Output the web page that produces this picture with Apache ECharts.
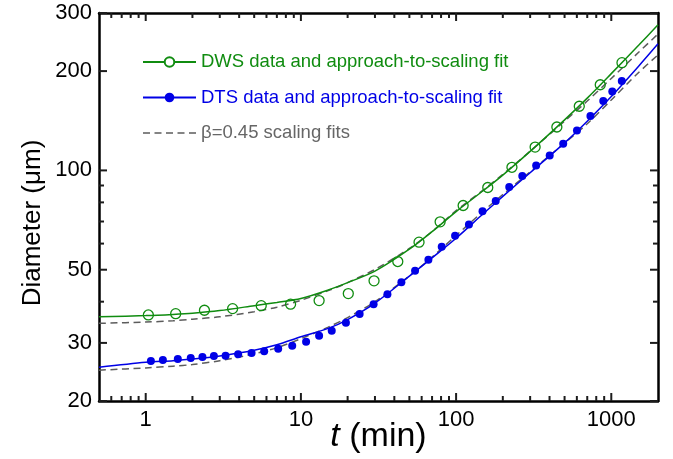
<!DOCTYPE html>
<html><head><meta charset="utf-8">
<script src="https://cdn.jsdelivr.net/npm/echarts@6/dist/echarts.min.js"></script>
<style>html,body{margin:0;padding:0;background:#fff}#c{width:673px;height:459px}</style>
</head><body><div id="c"></div>
<script>
// ---- data ----
const dwsT = [1.04,1.56,2.39,3.63,5.55,8.58,13.1,20.2,29.6,42.1,57.7,78.9,111,160,229,323,446,622,849,1172];
const dwsD = [36.46,36.79,37.68,38.11,38.91,39.30,40.30,42.32,46.27,52.94,60.60,69.84,78.28,88.75,102.2,117.7,135.4,156.5,181.8,212.1];

const dtsT = [1.08,1.29,1.61,1.95,2.32,2.75,3.27,3.94,4.81,5.80,7.14,8.79,10.8,13.1,15.8,19.5,23.9,29.4,36.1,44.4,54.4,66.3,80.8,98.5,121,148,180,220,267,328,401,490,601,734,888,1015,1169];
const dtsD = [26.45,26.63,26.82,27.0,27.19,27.38,27.44,27.71,27.96,28.29,28.81,29.42,30.26,31.56,32.68,34.55,36.71,39.30,42.15,45.85,49.62,53.58,58.65,63.33,68.54,75.26,80.72,89.0,96.1,103.4,111.0,120.5,132.1,146.3,162.4,173.5,186.6];

const fitT     = [0.5,1,1.5,2,3,5,7,10,15,20,30,50,70,100,150,200,300,500,700,1000,1500,2000];
const dwsFit   = [36.0,36.3,36.6,36.9,37.6,38.9,39.8,40.9,43.4,45.7,49.5,57.7,65.2,75.0,86.9,96.8,114.2,142.3,165.6,196.5,239.4,276.4];
const dtsFit   = [25.3,26.2,26.5,26.8,27.4,28.5,29.6,31.3,33.2,35.3,39.6,47.8,54.3,62.3,74.0,83.4,98.4,121.2,141.0,167.5,207,242];
const dwsScale = [34.4,34.7,35.0,35.4,36.0,37.3,38.5,40.4,43.2,45.7,50.1,58.0,65.3,75.5,87.3,97.3,114.3,141.0,162.3,190.0,228.0,259.0];
const dtsScale = [24.8,25.2,25.5,25.8,26.5,27.8,29.0,30.9,33.5,35.8,40.0,47.9,54.6,63.5,75.3,84.5,99.0,121.0,138.5,163.5,198,224];

const xRange = [0.5, 2000];
const yRange = [20, 300];
const xMajor = [1,10,100,1000];
const xMinor = [0.6,0.7,0.8,0.9,2,3,4,5,6,7,8,9,20,30,40,50,60,70,80,90,200,300,400,500,600,700,800,900];
const yMajor = [20,30,50,100,200,300];
const yMinor = [40,60,70,80,90];

const seriesNames = ['DWS data and approach-to-scaling fit','DTS data and approach-to-scaling fit','β=0.45 scaling fits'];
// --------------------------------------

const F = '"Liberation Sans", Arial, sans-serif';
const GREEN = '#108c10', BLUE = '#0000e6', GRAY = '#5c5c5c';
const TICK = '#1c1c1c';
const MAJOR_LEN = 8, MINOR_LEN = 5;
const zip = (a, b) => a.map((v, i) => [v, b[i]]);
const fmt = v => String(Math.round(v * 1000) / 1000);
const chart = echarts.init(document.getElementById('c'), null, {renderer: 'canvas'});

const axLine = () => ({show: true, onZero: false, lineStyle: {color: '#000', width: 2.5}});

function xAxisDef(pos, main) {
  const a = {
    type: 'log', logBase: 10, min: xRange[0], max: xRange[1], position: pos,
    axisLine: axLine(), axisTick: {show: false}, splitLine: {show: false},
    axisLabel: main ? {customValues: xMajor, fontSize: 22, color: '#000', fontFamily: F, margin: 8, formatter: fmt} : {show: false}
  };
  if (main) Object.assign(a, {
    name: '{i|t} (min)', nameLocation: 'middle', nameGap: 19, nameMoveOverlap: false,
    nameTextStyle: {fontSize: 34, color: '#000', fontFamily: F,
      rich: {i: {fontStyle: 'italic', fontSize: 34, color: '#000', fontFamily: F}}}
  });
  return a;
}
function yAxisDef(pos, main) {
  const a = {
    type: 'log', logBase: 10, min: yRange[0], max: yRange[1], position: pos,
    axisLine: axLine(), axisTick: {show: false}, splitLine: {show: false},
    axisLabel: main ? {customValues: yMajor, fontSize: 22, color: '#000', fontFamily: F, margin: 7, formatter: fmt} : {show: false}
  };
  if (main) Object.assign(a, {
    name: 'Diameter (μm)', nameLocation: 'middle', nameGap: 53, nameMoveOverlap: false,
    nameTextStyle: {fontSize: 26, color: '#000', fontFamily: F, padding: [0, 32, 0, 0]}
  });
  return a;
}

// inward ticks on all four sides, positioned through the axes' own scales (api.coord)
const xTickVals = xMajor.concat(xMinor);
const xTickLen = xMajor.map(() => MAJOR_LEN).concat(xMinor.map(() => MINOR_LEN));
const yTickVals = yMajor.concat(yMinor);
const yTickLen = yMajor.map(() => MAJOR_LEN).concat(yMinor.map(() => MINOR_LEN));

const xTickSeries = {
  type: 'custom', name: 'xticks', clip: false, z: 5,
  data: xTickVals.map(v => [v, yRange[0]]),
  renderItem: (params, api) => {
    const v = api.value(0), len = xTickLen[params.dataIndex];
    const b = api.coord([v, yRange[0]]), t = api.coord([v, yRange[1]]);
    return {type: 'group', children: [
      {type: 'line', shape: {x1: b[0], y1: b[1], x2: b[0], y2: b[1] - len}, style: {stroke: TICK, lineWidth: 2}},
      {type: 'line', shape: {x1: t[0], y1: t[1], x2: t[0], y2: t[1] + len}, style: {stroke: TICK, lineWidth: 2}}
    ]};
  }
};
const yTickSeries = {
  type: 'custom', name: 'yticks', clip: false, z: 5,
  data: yTickVals.map(v => [xRange[0], v]),
  renderItem: (params, api) => {
    const v = api.value(1), len = yTickLen[params.dataIndex];
    const l = api.coord([xRange[0], v]), r = api.coord([xRange[1], v]);
    return {type: 'group', children: [
      {type: 'line', shape: {x1: l[0], y1: l[1], x2: l[0] + len, y2: l[1]}, style: {stroke: TICK, lineWidth: 2}},
      {type: 'line', shape: {x1: r[0], y1: r[1], x2: r[0] - len, y2: r[1]}, style: {stroke: TICK, lineWidth: 2}}
    ]};
  }
};

const option = {
  animation: false, backgroundColor: '#fff', textStyle: {fontFamily: F},
  grid: {left: 99, right: 15, top: 13, bottom: 58},
  xAxis: [xAxisDef('bottom', true), xAxisDef('top', false)],
  yAxis: [yAxisDef('left', true), yAxisDef('right', false)],
  legend: {
    orient: 'vertical', left: 137, top: 47, itemWidth: 53, itemHeight: 12, itemGap: 15.5, selectedMode: false,
    textStyle: {fontSize: 18.5, fontFamily: F, lineHeight: 20},
    data: [
      {name: seriesNames[0], textStyle: {color: GREEN}},
      {name: seriesNames[1], textStyle: {color: BLUE}},
      {name: seriesNames[2], textStyle: {color: '#666'},
       icon: 'path://M0,0h7v1.6h-7zM11.5,0h7v1.6h-7zM23,0h7v1.6h-7zM34.5,0h7v1.6h-7zM46,0h7v1.6h-7z'}
    ]
  },
  series: [
    {name: seriesNames[2], type: 'line', data: zip(fitT, dwsScale), smooth: 0.3, symbol: 'none',
     color: GRAY, lineStyle: {color: GRAY, width: 1.5, type: [7, 4.5]}, z: 2},
    {name: seriesNames[2], type: 'line', data: zip(fitT, dtsScale), smooth: 0.3, symbol: 'none',
     color: GRAY, lineStyle: {color: GRAY, width: 1.5, type: [7, 4.5]}, z: 2},
    {name: seriesNames[0], type: 'line', data: zip(fitT, dwsFit), smooth: 0.3, symbol: 'emptyCircle', showSymbol: false,
     color: GREEN, lineStyle: {color: GREEN, width: 1.5}, itemStyle: {color: GREEN}, z: 3},
    {name: seriesNames[1], type: 'line', data: zip(fitT, dtsFit), smooth: 0.3, symbol: 'circle', showSymbol: false,
     color: BLUE, lineStyle: {color: BLUE, width: 1.5}, itemStyle: {color: BLUE}, z: 3},
    {name: 'DWS data', type: 'scatter', data: zip(dwsT, dwsD), symbol: 'circle', symbolSize: 10,
     itemStyle: {color: 'rgba(255,255,255,0)', borderColor: GREEN, borderWidth: 1.3, opacity: 1}, z: 4},
    {name: 'DTS data', type: 'scatter', data: zip(dtsT, dtsD), symbol: 'circle', symbolSize: 8,
     itemStyle: {color: BLUE, opacity: 1}, z: 4},
    xTickSeries,
    yTickSeries
  ]
};
chart.setOption(option);
</script></body></html>
